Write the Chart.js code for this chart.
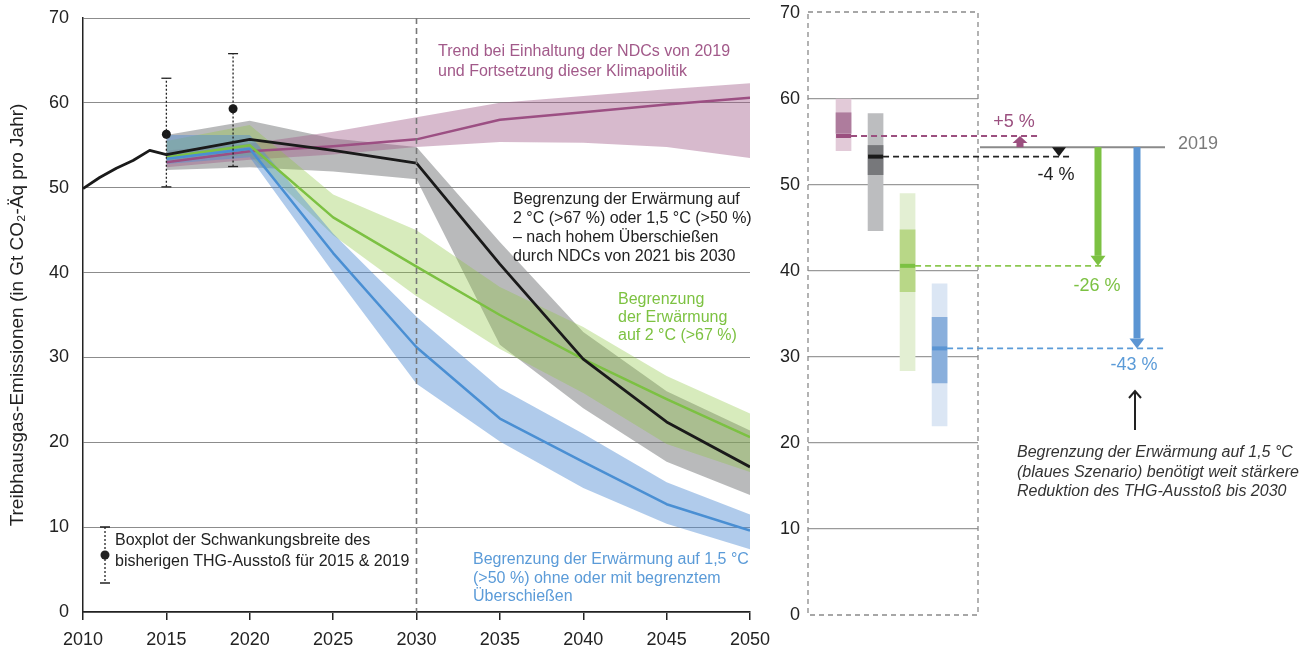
<!DOCTYPE html>
<html>
<head>
<meta charset="utf-8">
<script src="https://cdn.jsdelivr.net/npm/chart.js@4.4.0/dist/chart.umd.min.js"></script>
<style>
  body { margin: 0; background: #fff; width: 1315px; height: 652px; position: relative; overflow: hidden; }
  #links { position: absolute; left: 0; top: 0; }
  #rechts { position: absolute; left: 765px; top: 0; }
</style>
</head>
<body>
<canvas id="links" width="780" height="652"></canvas>
<canvas id="rechts" width="550" height="652"></canvas>
<script>
// historischer Verlauf
const histJahre = [2010, 2011, 2012, 2013, 2014, 2015];
const histWerte = [49.9, 51.2, 52.3, 53.2, 54.4, 53.9];

// Szenarien (Median + Bandbreite)
const szenJahre  = [2015, 2020, 2025, 2030, 2035, 2040, 2045, 2050];
const ndcMedian  = [53.0, 54.3, 54.9, 55.7, 58.0, 58.9, 59.8, 60.6];
const ndcOben    = [54.4, 55.2, 56.6, 58.3, 60.0, 60.8, 61.6, 62.3];
const ndcUnten   = [52.4, 53.3, 53.9, 54.8, 55.4, 55.3, 54.8, 53.5];
const hochMedian = [53.9, 55.7, 54.4, 52.9, 41.0, 29.8, 22.4, 17.1];
const hochOben   = [56.2, 57.9, 55.8, 54.8, 43.6, 33.0, 26.0, 21.4];
const hochUnten  = [52.1, 52.4, 51.9, 51.0, 31.5, 24.0, 17.7, 13.8];
const zweiMedian = [53.6, 55.0, 46.5, 40.7, 35.0, 29.8, 25.1, 20.6];
const zweiOben   = [55.5, 57.4, 49.2, 45.0, 38.3, 33.6, 27.8, 23.4];
const zweiUnten  = [53.2, 53.8, 44.4, 37.2, 31.0, 25.8, 19.8, 16.5];
const einsMedian = [53.4, 54.6, 42.3, 31.2, 22.8, 17.7, 12.7, 9.6];
const einsOben   = [56.2, 56.2, 44.6, 34.8, 26.4, 21.0, 15.3, 11.5];
const einsUnten  = [52.8, 53.6, 40.0, 26.9, 20.1, 14.6, 10.4, 7.4];

// Boxplots 2015 & 2019
const boxJahre = [2015, 2019];
const boxUnten = [50.1, 52.5];
const boxOben  = [62.9, 65.8];
const boxPunkt = [56.3, 59.3];

// rechte Tafel: Werte 2030
const boxNamen  = ['NDC-Trend', 'hohes Überschießen', '2 °C', '1,5 °C'];
const boxMin    = [54.0, 44.7, 28.4, 22.0];
const boxMax    = [60.0, 58.3, 49.0, 38.5];
const boxQ1     = [56.0, 51.2, 37.6, 27.0];
const boxQ3     = [58.4, 54.6, 44.8, 34.6];
const boxMedian = [55.7, 53.3, 40.6, 31.0];
const wert2019  = 54.4;
const aenderung = ['+5 %', '-4 %', '-26 %', '-43 %'];

Chart.defaults.font.family = '"Liberation Sans", Arial, sans-serif';

const lila = '#9c4f83', gruen = '#7cc142', blau = '#4a8fd3', schwarz = '#1a1a1a';

const pkt = (jahre, werte) => jahre.map((j, i) => ({ x: j, y: werte[i] }));

function band(oben, unten, farbe) {
  return [
    { data: pkt(szenJahre, oben), borderWidth: 0, borderColor: 'rgba(0,0,0,0)', fill: '+1', backgroundColor: farbe, pointRadius: 0 },
    { data: pkt(szenJahre, unten), borderWidth: 0, borderColor: 'rgba(0,0,0,0)', fill: false, pointRadius: 0 }
  ];
}
function linie(jahre, werte, farbe, breite) {
  return { data: pkt(jahre, werte), borderColor: farbe, borderWidth: breite, fill: false, pointRadius: 0, borderJoinStyle: 'round' };
}

const schwarzJahre = histJahre.concat(szenJahre.slice(1));
const schwarzWerte = histWerte.concat(hochMedian.slice(1));

const whisker = boxJahre.map((j, i) => ({
  data: [{ x: j, y: boxUnten[i] }, { x: j, y: boxOben[i] }],
  borderColor: '#222', borderWidth: 1.3, borderDash: [2, 2], fill: false,
  pointStyle: 'line', pointRadius: 5, pointBorderWidth: 1.3, pointBorderColor: '#222'
}));

function textZeilen(ctx, zeilen, x, y0, dy) {
  zeilen.forEach((z, i) => ctx.fillText(z, x, y0 + i * dy));
}

const linksDeko = {
  id: 'linksDeko',
  afterDatasetsDraw(chart) {
    const { ctx, chartArea: a, scales: { x } } = chart;
    ctx.save();
    // 2030 Markierung
    const x30 = x.getPixelForValue(2030);
    ctx.strokeStyle = '#777';
    ctx.lineWidth = 1.6;
    ctx.setLineDash([6, 4]);
    ctx.beginPath();
    ctx.moveTo(x30, a.top);
    ctx.lineTo(x30, a.bottom);
    ctx.stroke();
    ctx.setLineDash([]);

    // Legende Boxplot
    ctx.strokeStyle = '#222';
    ctx.lineWidth = 1.3;
    ctx.setLineDash([2, 2]);
    ctx.beginPath();
    ctx.moveTo(105, 527);
    ctx.lineTo(105, 583);
    ctx.stroke();
    ctx.setLineDash([]);
    ctx.beginPath();
    ctx.moveTo(100, 527); ctx.lineTo(110, 527);
    ctx.moveTo(100, 583); ctx.lineTo(110, 583);
    ctx.stroke();
    ctx.fillStyle = '#222';
    ctx.beginPath();
    ctx.arc(105, 555, 4.5, 0, Math.PI * 2);
    ctx.fill();

    ctx.textBaseline = 'middle';
    ctx.textAlign = 'left';
    ctx.font = '16px "Liberation Sans", Arial, sans-serif';
    ctx.fillStyle = '#222';
    textZeilen(ctx, ['Boxplot der Schwankungsbreite des', 'bisherigen THG-Ausstoß für 2015 & 2019'], 115, 541, 21);

    ctx.fillStyle = '#a25a8a';
    textZeilen(ctx, ['Trend bei Einhaltung der NDCs von 2019', 'und Fortsetzung dieser Klimapolitik'], 438, 52, 20);

    ctx.fillStyle = '#222';
    textZeilen(ctx, ['Begrenzung der Erwärmung auf', '2 °C (>67 %) oder 1,5 °C (>50 %)', '– nach hohem Überschießen', 'durch NDCs von 2021 bis 2030'], 513, 200, 18.7);

    ctx.fillStyle = '#7dc242';
    textZeilen(ctx, ['Begrenzung', 'der Erwärmung', 'auf 2 °C (>67 %)'], 618, 300, 18);

    ctx.fillStyle = '#5b9bd8';
    textZeilen(ctx, ['Begrenzung der Erwärmung auf 1,5 °C', '(>50 %) ohne oder mit begrenztem', 'Überschießen'], 473, 560, 18.5);
    ctx.restore();
  }
};

new Chart(document.getElementById('links'), {
  type: 'line',
  data: {
    datasets: [
      ...whisker,
      { data: pkt(boxJahre, boxPunkt), showLine: false, pointRadius: 4.5, pointBackgroundColor: '#1a1a1a', pointBorderWidth: 0 },
      linie(schwarzJahre, schwarzWerte, schwarz, 2.8),
      linie(szenJahre, einsMedian, blau, 2.5),
      linie(szenJahre, zweiMedian, gruen, 2.5),
      linie(szenJahre, ndcMedian, lila, 2.5),
      ...band(einsOben, einsUnten, 'rgba(80,140,210,0.45)'),
      ...band(zweiOben, zweiUnten, 'rgba(141,198,63,0.35)'),
      ...band(ndcOben, ndcUnten, 'rgba(160,90,135,0.42)'),
      ...band(hochOben, hochUnten, 'rgba(120,122,125,0.52)')
    ]
  },
  options: {
    responsive: false,
    animation: false,
    layout: { padding: { top: 18, right: 30, left: 0, bottom: 0 } },
    plugins: { legend: { display: false }, tooltip: { enabled: false } },
    elements: { line: { tension: 0 } },
    scales: {
      x: {
        type: 'linear', min: 2010, max: 2050,
        ticks: { stepSize: 5, callback: v => String(v), font: { size: 18 }, color: '#222', padding: 9, maxRotation: 0 },
        grid: { drawOnChartArea: false, drawTicks: true, tickLength: 8, color: '#222', lineWidth: 1.5 },
        border: { color: '#222', width: 1.5 },
        afterFit: s => { s.height = 40; }
      },
      y: {
        min: 0, max: 70,
        ticks: { stepSize: 10, font: { size: 18 }, color: '#222', padding: 14 },
        grid: { color: '#8c8c8c', lineWidth: 1, drawTicks: false },
        border: { color: '#222', width: 1.5 },
        title: { display: true, text: 'Treibhausgas-Emissionen (in Gt CO₂-Äq pro Jahr)', font: { size: 19 }, color: '#222', padding: { top: 6, bottom: 0 } },
        afterFit: s => { s.width = 83; s.paddingTop = 0; s.paddingBottom = 0; }
      }
    }
  },
  plugins: [linksDeko]
});

// rechte Tafel
const hellFarben   = ['#e2cad8', '#bcbdbf', '#e3efd3', '#dbe6f4'];
const dunkelFarben = ['#ae7c9d', '#77787b', '#b8d787', '#89afdc'];
const medianFarben = ['#9b4f7f', '#1a1a1a', '#7cc142', '#5b95d3'];
const strichFarben = ['#9b4f7f', '#222222', '#8cc850', '#5b9bd8'];
const strichEnde   = [63, 95, 125, 188];
const pfeilX       = [42, 81, 120, 159];
const labelDx      = [-6, -3, -1, -3];
const labelDy      = [-14, 18, 20, 17];

function pfeil(ctx, x, yStart, yEnde, schaft, kopfB, kopfH, farbe) {
  const r = yEnde > yStart ? 1 : -1;
  const yKopf = yEnde - r * kopfH;
  ctx.fillStyle = farbe;
  if ((yKopf - yStart) * r > 0) ctx.fillRect(x - schaft / 2, Math.min(yStart, yKopf), schaft, Math.abs(yKopf - yStart));
  ctx.beginPath();
  ctx.moveTo(x - kopfB / 2, yKopf);
  ctx.lineTo(x + kopfB / 2, yKopf);
  ctx.lineTo(x, yEnde);
  ctx.closePath();
  ctx.fill();
}

const rechtsDeko = {
  id: 'rechtsDeko',
  afterDatasetsDraw(chart) {
    const { ctx, chartArea: a, scales: { x, y } } = chart;
    ctx.save();
    // gestrichelter Rahmen
    ctx.strokeStyle = '#8a8a8a';
    ctx.lineWidth = 1.3;
    ctx.setLineDash([5, 4]);
    ctx.strokeRect(a.left, a.top - 1, a.right - a.left, a.bottom - a.top + 1);

    const y19 = y.getPixelForValue(wert2019);
    // Mediane und Linien
    boxMedian.forEach((m, i) => {
      const ym = y.getPixelForValue(m);
      const xc = x.getPixelForValue(i);
      ctx.setLineDash([]);
      ctx.strokeStyle = medianFarben[i];
      ctx.lineWidth = 4;
      ctx.beginPath();
      ctx.moveTo(xc - 7.5, ym);
      ctx.lineTo(xc + 7.5, ym);
      ctx.stroke();
      ctx.setLineDash([6, 4]);
      ctx.strokeStyle = strichFarben[i];
      ctx.lineWidth = 1.8;
      ctx.beginPath();
      ctx.moveTo(xc + 7.5, ym);
      ctx.lineTo(a.right + strichEnde[i], ym);
      ctx.stroke();
    });
    ctx.setLineDash([]);

    // 2019-Linie
    ctx.strokeStyle = '#8a8a8a';
    ctx.lineWidth = 2;
    ctx.beginPath();
    ctx.moveTo(a.right + 2, y19);
    ctx.lineTo(a.right + 187, y19);
    ctx.stroke();

    // Pfeile
    boxMedian.forEach((m, i) => {
      const ym = y.getPixelForValue(m);
      const px = a.right + pfeilX[i];
      if (i === 0) pfeil(ctx, px, y19, ym, 7, 15, 7, '#9b4f7f');
      else if (i === 1) pfeil(ctx, px, y19, ym, 0, 14, ym - y19, '#1a1a1a');
      else pfeil(ctx, px, y19, ym, 7, 15, 10, medianFarben[i]);
    });

    // Beschriftungen
    ctx.textBaseline = 'middle';
    ctx.textAlign = 'left';
    ctx.font = '18px "Liberation Sans", Arial, sans-serif';
    ctx.fillStyle = '#7a7a7a';
    ctx.fillText('2019', a.right + 200, y19 - 3);

    ctx.textAlign = 'center';
    const labelFarben = ['#9b4f7f', '#222', '#7cc142', '#5b9bd8'];
    aenderung.forEach((t, i) => {
      ctx.fillStyle = labelFarben[i];
      ctx.fillText(t, a.right + pfeilX[i] + labelDx[i], y.getPixelForValue(boxMedian[i]) + labelDy[i]);
    });

    // Hinweis-Pfeil
    const hx = a.right + 157;
    ctx.strokeStyle = '#222';
    ctx.lineWidth = 2;
    ctx.beginPath();
    ctx.moveTo(hx, 430);
    ctx.lineTo(hx, 391);
    ctx.moveTo(hx - 6, 398);
    ctx.lineTo(hx, 391);
    ctx.lineTo(hx + 6, 398);
    ctx.stroke();

    ctx.textAlign = 'left';
    ctx.fillStyle = '#333';
    ctx.font = 'italic 16px "Liberation Sans", Arial, sans-serif';
    textZeilen(ctx, ['Begrenzung der Erwärmung auf 1,5 °C', '(blaues Szenario) benötigt weit stärkere', 'Reduktion des THG-Ausstoß bis 2030'], a.right + 39, 453, 19.5);
    ctx.restore();
  }
};

new Chart(document.getElementById('rechts'), {
  type: 'bar',
  data: {
    datasets: [
      { data: boxNamen.map((n, i) => ({ x: i, y: [boxQ1[i], boxQ3[i]] })), backgroundColor: dunkelFarben, barThickness: 15, grouped: false, order: 1 },
      { data: boxNamen.map((n, i) => ({ x: i, y: [boxMin[i], boxMax[i]] })), backgroundColor: hellFarben, barThickness: 15, grouped: false, order: 2 }
    ]
  },
  options: {
    responsive: false,
    animation: false,
    layout: { padding: { top: 13, right: 337, bottom: 37, left: 0 } },
    plugins: { legend: { display: false }, tooltip: { enabled: false } },
    scales: {
      x: { type: 'linear', min: -1.11, max: 4.2, offset: false, display: false },
      y: {
        min: 0, max: 70,
        ticks: { stepSize: 10, font: { size: 18 }, color: '#222', padding: 8 },
        grid: { drawTicks: false, lineWidth: 1.2, color: c => (c.tick.value === 0 || c.tick.value === 70) ? 'rgba(0,0,0,0)' : '#9a9a9a' },
        border: { display: false },
        afterFit: s => { s.width = 43; s.paddingTop = 0; s.paddingBottom = 0; }
      }
    }
  },
  plugins: [rechtsDeko]
});
</script>
</body>
</html>
